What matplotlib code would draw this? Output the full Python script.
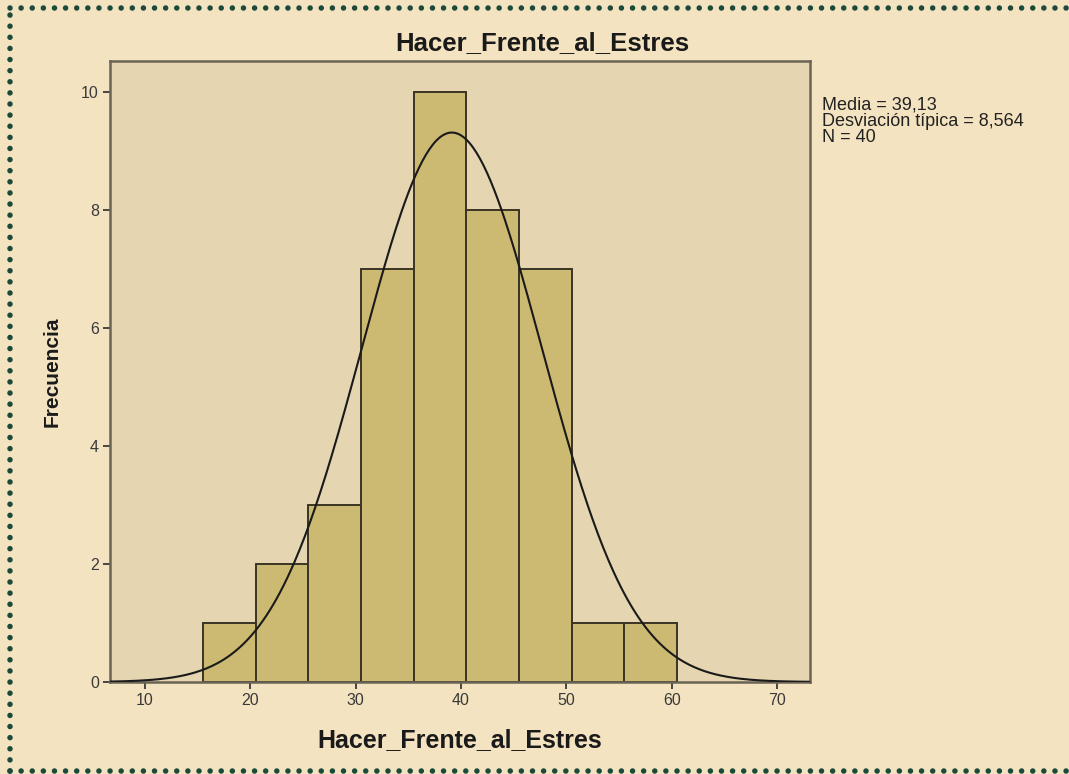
import numpy as np
import matplotlib
matplotlib.use("Agg")
import matplotlib.pyplot as plt
from matplotlib.lines import Line2D

plt.rcParams['font.family'] = ['Liberation Sans', 'DejaVu Sans']

# datos del histograma
bin_edges = [15.5, 20.5, 25.5, 30.5, 35.5, 40.5, 45.5, 50.5, 55.5, 60.5]
frecuencias = [1, 2, 3, 7, 10, 8, 7, 1, 1]
media = 39.13
desviacion = 8.564
n_total = 40
x_ticks = [10, 20, 30, 40, 50, 60, 70]
y_ticks = [0, 2, 4, 6, 8, 10]

fondo = '#F4E3C0'
fondo_ejes = '#E5D5B1'
color_barra = '#CDBA72'
borde = '#3B3424'

fig = plt.figure(figsize=(10.69, 7.74), dpi=100, facecolor=fondo)
ax = fig.add_axes([110/1069, 1 - 682/774, 700/1069, 621/774])
ax.set_facecolor(fondo_ejes)

anchos = np.diff(bin_edges)
ax.bar(bin_edges[:-1], frecuencias, width=anchos, align='edge',
       color=color_barra, edgecolor=borde, linewidth=1.4, zorder=2)

# curva normal escalada
ancho_bin = anchos[0]
xs = np.linspace(6.68, 73.13, 400)
ys = n_total * ancho_bin / (desviacion * np.sqrt(2 * np.pi)) * np.exp(-0.5 * ((xs - media) / desviacion) ** 2)
ax.plot(xs, ys, color='#1a1a1a', linewidth=1.5, zorder=3)

ax.set_xlim(6.68, 73.13)
ax.set_ylim(0, 10.53)
ax.set_xticks(x_ticks)
ax.set_yticks(y_ticks)
ax.tick_params(direction='out', length=5, width=1.3, color='#3a3a3a',
               labelsize=11.5, labelcolor='#3a3a3a', pad=3)
for s in ax.spines.values():
    s.set_color('#6a6454')
    s.set_linewidth(1.8)

# el titulo va centrado sobre todo el grafico (ejes + texto de la derecha)
ax.set_title('Hacer_Frente_al_Estres', fontsize=18.5, fontweight='bold', color='#1a1a1a',
             pad=8, x=(542 - 110) / 700)
ax.set_xlabel('Hacer_Frente_al_Estres', fontsize=18, fontweight='bold', color='#1a1a1a', labelpad=14)
ax.set_ylabel('Frecuencia', fontsize=15, fontweight='bold', color='#1a1a1a', labelpad=14)

fig.text(822/1069, 1 - 97/774,
         'Media = 39,13\nDesviación típica = 8,564\nN = 40',
         fontsize=13, color='#222222', va='top', ha='left', linespacing=0.92)

# borde punteado
punt = dict(color='#1B4A3B', linewidth=4, linestyle=(0, (0.001, 2.0)),
            dash_capstyle='round', transform=fig.transFigure)
x0, x1 = 10/1069, 1.0
y0, y1 = 1 - 771/774, 1 - 8/774
fig.add_artist(Line2D([x0, x1], [y1, y1], **punt))
fig.add_artist(Line2D([x0, x0], [y0, y1], **punt))
fig.add_artist(Line2D([x0, x1], [y0, y0], **punt))

fig.savefig('out.png', dpi=100, facecolor=fondo)
